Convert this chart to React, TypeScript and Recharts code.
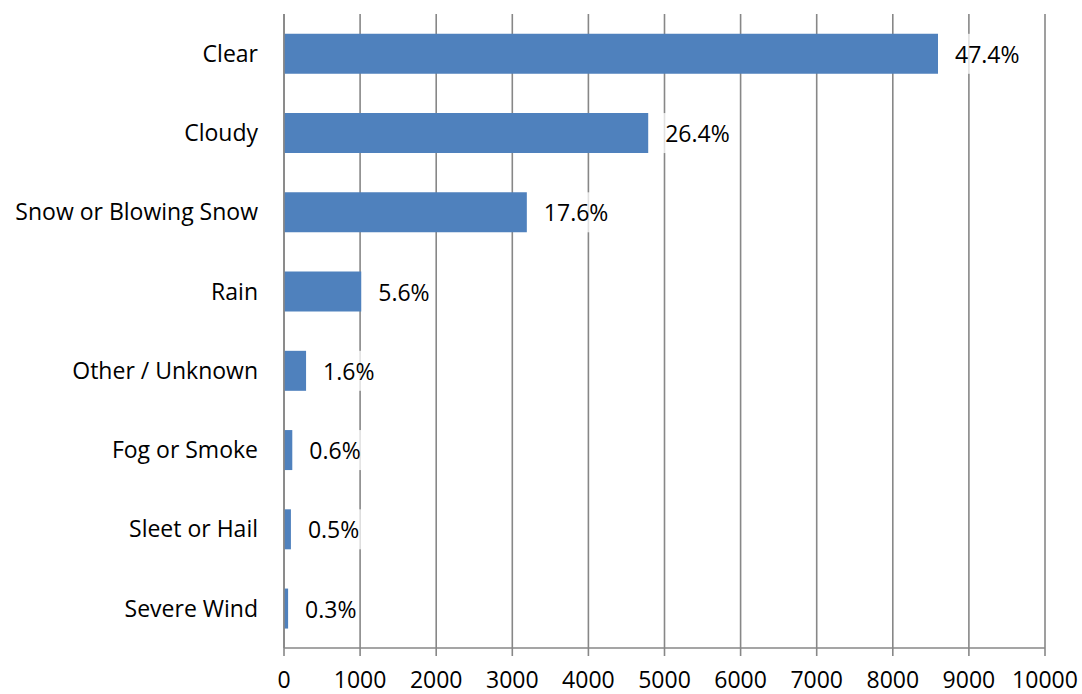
import React from "react";
import { BarChart, Bar, XAxis, YAxis, CartesianGrid, LabelList } from "recharts";

// Crash counts by weather condition
const categories = [
  "Clear",
  "Cloudy",
  "Snow or Blowing Snow",
  "Rain",
  "Other / Unknown",
  "Fog or Smoke",
  "Sleet or Hail",
  "Severe Wind",
];
const counts = [8594, 4786, 3191, 1015, 290, 109, 91, 54];
const shares = ["47.4%", "26.4%", "17.6%", "5.6%", "1.6%", "0.6%", "0.5%", "0.3%"];
const xTicks = [0, 1000, 2000, 3000, 4000, 5000, 6000, 7000, 8000, 9000, 10000];

const data = categories.map((name, i) => ({ name, count: counts[i], share: shares[i] }));

const FONT = "'Open Sans', 'Liberation Sans', sans-serif";
const GRID = "#878787";

// Percentage label with a semi-opaque white box behind it
const ShareLabel = (props: any) => {
  const { x, y, width, height, value } = props;
  const left = Number(x) + Number(width) + 6;
  const textW = String(value).length * 13 + 6;
  return (
    <g>
      <rect x={left} y={y} width={textW + 6} height={height} fill="#ffffff" fillOpacity={0.75} />
      <text
        x={left + 11}
        y={Number(y) + Number(height) / 2}
        dominantBaseline="central"
        fontFamily={FONT}
        fontSize={23}
        fill="#000"
      >
        {value}
      </text>
    </g>
  );
};

export default function App() {
  return (
    <div style={{ position: "absolute", left: 0, top: 0, width: 1082, height: 694, background: "#fff" }}>
      <BarChart
        width={1082}
        height={694}
        data={data}
        layout="vertical"
        margin={{ top: 14, right: 37, bottom: 0, left: 0 }}
        barCategoryGap="25%"
      >
        <CartesianGrid horizontal={false} stroke={GRID} strokeWidth={1.6} />
        <XAxis
          type="number"
          dataKey="count"
          domain={[0, 10000]}
          ticks={xTicks}
          interval={0}
          height={46}
          axisLine={{ stroke: GRID, strokeWidth: 1.6 }}
          tickLine={{ stroke: GRID, strokeWidth: 1.6 }}
          tickSize={8}
          tick={{ fontFamily: FONT, fontSize: 23, fill: "#000", dy: 14 }}
        />
        <YAxis
          type="category"
          dataKey="name"
          width={284}
          axisLine={{ stroke: GRID, strokeWidth: 1.6 }}
          tickLine={false}
          tickMargin={20}
          tick={{ fontFamily: FONT, fontSize: 23, fill: "#000" }}
        />
        <Bar dataKey="count" fill="#4F81BD" isAnimationActive={false}>
          <LabelList dataKey="share" content={ShareLabel} />
        </Bar>
      </BarChart>
    </div>
  );
}
